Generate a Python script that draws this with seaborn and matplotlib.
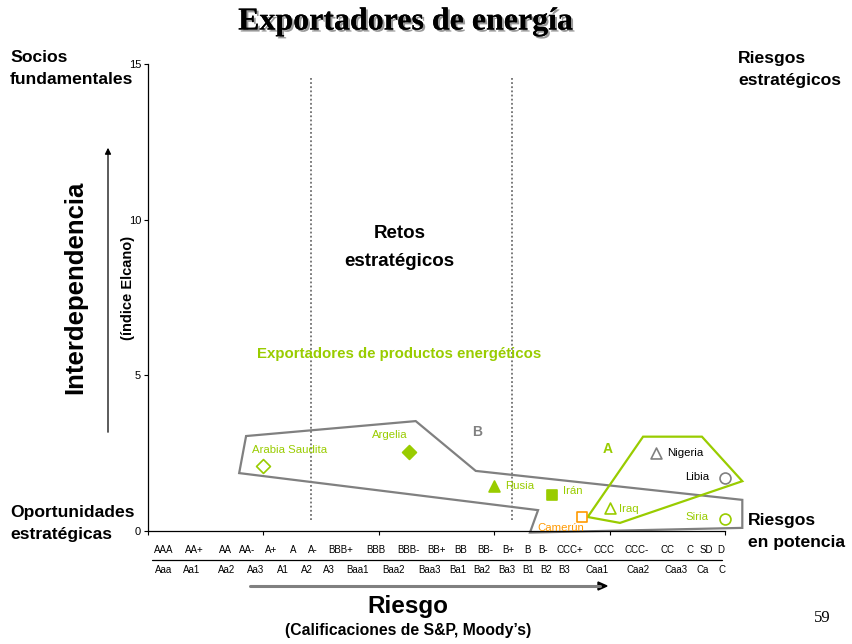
"""
Exportadores de energia: interdependencia (indice Elcano) frente a riesgo
(calificaciones de S&P y Moody's). Guarda out.png.
"""
import matplotlib
matplotlib.use("Agg")
import matplotlib.pyplot as plt
import matplotlib.patheffects as pe
from matplotlib.lines import Line2D
import pandas as pd
import seaborn as sns

# Datos
paises = ["Arabia Saudita", "Argelia", "Rusia", "Irán", "Camerún",
          "Iraq", "Nigeria", "Libia", "Siria"]
riesgo = [5.0, 11.3, 15.0, 17.5, 18.8, 20.0, 22.0, 25.0, 25.0]
interdependencia = [2.1, 2.55, 1.45, 1.15, 0.45, 0.75, 2.5, 1.7, 0.4]
marcador = ["D", "D", "^", "s", "s", "^", "^", "o", "o"]
relleno = [False, True, True, True, False, False, False, False, False]
grupo_color = ["verde", "verde", "verde", "verde", "naranja",
               "verde", "gris", "gris", "verde"]
etiqueta_color = ["verde", "verde", "verde", "verde", "naranja",
                  "verde", "negro", "negro", "verde"]

# Poligonos de los grupos
grupo_b_x = [4.25, 11.6, 14.2, 25.75, 25.75, 16.55, 16.9, 3.95]
grupo_b_y = [3.05, 3.53, 1.93, 1.0, 0.1, -0.05, 0.67, 1.86]
grupo_a_x = [21.45, 24.0, 25.75, 20.45, 19.05]
grupo_a_y = [3.03, 3.03, 1.6, 0.26, 0.45]

# Separadores de zonas
separadores_x = [7.05, 15.75]

# Escalas de calificacion
sp_labels = ["AAA", "AA+", "AA", "AA-", "A+", "A", "A-", "BBB+", "BBB", "BBB-",
             "BB+", "BB", "BB-", "B+", "B", "B-", "CCC+", "CCC", "CCC-", "CC",
             "C", "SD", "D"]
sp_pos = [0.69, 1.99, 3.34, 4.29, 5.33, 6.28, 7.15, 8.36, 9.88, 11.27,
          12.52, 13.56, 14.60, 15.60, 16.42, 17.11, 18.28, 19.76, 21.19, 22.53,
          23.48, 24.18, 24.83]
moody_labels = ["Aaa", "Aa1", "Aa2", "Aa3", "A1", "A2", "A3", "Baa1", "Baa2",
                "Baa3", "Ba1", "Ba2", "Ba3", "B1", "B2", "B3", "Caa1", "Caa2",
                "Caa3", "Ca", "C"]
moody_pos = [0.69, 1.91, 3.42, 4.68, 5.85, 6.89, 7.84, 9.06, 10.62,
             12.18, 13.43, 14.47, 15.55, 16.46, 17.24, 18.02, 19.45, 21.23,
             22.88, 24.05, 24.87]

df = pd.DataFrame({"pais": paises, "x": riesgo, "y": interdependencia,
                   "marker": marcador, "filled": relleno,
                   "color": grupo_color, "lcolor": etiqueta_color})

COLORES = {"verde": "#99CC00", "naranja": "#FF9900", "gris": "#808080",
           "negro": "#000000"}

# desplazamiento de etiquetas (puntos) y alineacion
offsets = {
    "Arabia Saudita": (-8, 11, "left"),
    "Argelia": (-14, 12, "center"),
    "Rusia": (8, 0, "left"),
    "Irán": (8, 3, "left"),
    "Camerún": (-15, -8, "center"),
    "Iraq": (7, -1, "left"),
    "Nigeria": (8, 0, "left"),
    "Libia": (-11, 1, "right"),
    "Siria": (-12, 1, "right"),
}

sns.set_theme(style="white")
plt.rcParams["font.family"] = ["Liberation Sans", "DejaVu Sans"]
plt.rcParams["text.color"] = "black"
plt.rcParams["axes.labelcolor"] = "black"

W, H = 853, 644
fig = plt.figure(figsize=(W / 100, H / 100), dpi=100)


def fx(px):
    return px / W


def fy(py):
    return 1 - py / H


ax = fig.add_axes([fx(148), fy(531), (725 - 148) / W, (531 - 64) / H])
ax.set_xlim(0, 25)
ax.set_ylim(0, 15)

for s in ("top", "right"):
    ax.spines[s].set_visible(False)
for s in ("left", "bottom"):
    ax.spines[s].set_color("black")
    ax.spines[s].set_linewidth(0.9)
ax.set_xticks([0, 5, 10, 15, 20, 25])
ax.set_xticklabels([])
ax.set_yticks([0, 5, 10, 15])
ax.tick_params(axis="both", direction="out", length=3, width=0.8,
               colors="black", labelsize=8, pad=2, left=True, bottom=True)

# separadores punteados
for sx in separadores_x:
    ax.plot([sx, sx], [0.35, 14.6], color="#707070", lw=1.3, ls=(0, (1, 1.3)))

# poligonos
ax.fill(grupo_b_x, grupo_b_y, facecolor="none", edgecolor="#808080",
        lw=1.6, clip_on=False, zorder=2)
ax.fill(grupo_a_x, grupo_a_y, facecolor="none", edgecolor="#99CC00",
        lw=1.6, clip_on=False, zorder=3)

# puntos
for _, r in df.iterrows():
    c = COLORES[r["color"]]
    size = 50 if r["marker"] == "D" else 62
    sns.scatterplot(x=[r["x"]], y=[r["y"]], marker=r["marker"], s=size,
                    facecolor=c if r["filled"] else "white",
                    edgecolor=c, linewidth=1.2, ax=ax, clip_on=False,
                    zorder=4, legend=False)
    dx, dy, ha = offsets[r["pais"]]
    ax.annotate(r["pais"], (r["x"], r["y"]), xytext=(dx, dy),
                textcoords="offset points", ha=ha, va="center",
                fontsize=8.2, color=COLORES[r["lcolor"]],
                annotation_clip=False, zorder=5)

ax.text(19.9, 2.64, "A", color="#99CC00", fontsize=10, fontweight="bold",
        ha="center", va="center")
ax.text(14.25, 3.18, "B", color="#808080", fontsize=10, fontweight="bold",
        ha="center", va="center")
ax.text(10.9, 9.55, "Retos", fontsize=13.5, fontweight="bold",
        ha="center", va="center")
ax.text(10.9, 8.65, "estratégicos", fontsize=13.5, fontweight="bold",
        ha="center", va="center")
ax.text(10.9, 5.7, "Exportadores de productos energéticos", color="#99CC00",
        fontsize=10.8, fontweight="bold", ha="center", va="center")

# escalas de calificacion bajo el eje
xtrans = ax.get_xaxis_transform()
ytxt_sp = (531 - 550) / (531 - 64)
ytxt_md = (531 - 570) / (531 - 64)
for lab, p in zip(sp_labels, sp_pos):
    ax.text(p, ytxt_sp, lab, transform=xtrans, fontsize=7, ha="center",
            va="center", clip_on=False)
for lab, p in zip(moody_labels, moody_pos):
    ax.text(p, ytxt_md, lab, transform=xtrans, fontsize=7, ha="center",
            va="center", clip_on=False)
fig.add_artist(Line2D([fx(152), fx(722)], [fy(560), fy(560)],
                      color="black", lw=0.9))

# flecha de riesgo
fig.add_artist(Line2D([fx(250), fx(600)], [fy(586), fy(586)],
                      color="#808080", lw=2.2))
fig.add_artist(plt.Polygon([[fx(598), fy(582)], [fx(607), fy(586)],
                            [fx(598), fy(590)]], closed=True,
                           facecolor="black", edgecolor="black"))

# flecha de interdependencia
ax.annotate("", xy=(fx(108), fy(145)), xytext=(fx(108), fy(435)),
            xycoords="figure fraction", textcoords="figure fraction",
            arrowprops=dict(arrowstyle="-|>", color="black", lw=0.9,
                            mutation_scale=9))

# textos de la figura
title = fig.text(fx(406), fy(22), "Exportadores de energía",
                 family=["Liberation Serif", "DejaVu Serif"],
                 fontsize=23, fontweight="bold", ha="center", va="center")
title.set_path_effects([pe.withSimplePatchShadow(offset=(1.5, -1.5),
                                                 shadow_rgbFace="0.6",
                                                 alpha=1.0),
                        pe.Normal()])

fig.text(fx(75), fy(287), "Interdependencia", rotation=90, fontsize=18.5,
         fontweight="bold", ha="center", va="center")
fig.text(fx(128), fy(288), "(índice Elcano)", rotation=90, fontsize=10.5,
         fontweight="bold", ha="center", va="center")
fig.text(fx(408), fy(606), "Riesgo", fontsize=17.5, fontweight="bold",
         ha="center", va="center")
fig.text(fx(408), fy(630), "(Calificaciones de S&P, Moody’s)", fontsize=11.3,
         fontweight="bold", ha="center", va="center")

# rotulos de las esquinas, una linea por texto
corner = dict(fontsize=12.6, fontweight="bold", va="center", ha="left")
fig.text(fx(10), fy(58), "Socios", **corner)
fig.text(fx(10), fy(80), "fundamentales", **corner)
fig.text(fx(738), fy(58), "Riesgos", **corner)
fig.text(fx(738), fy(80), "estratégicos", **corner)
fig.text(fx(10), fy(512), "Oportunidades", **corner)
fig.text(fx(10), fy(535), "estratégicas", **corner)
fig.text(fx(748), fy(520), "Riesgos", **corner)
fig.text(fx(748), fy(542), "en potencia", **corner)

fig.text(fx(822), fy(618), "59", family=["Liberation Serif", "DejaVu Serif"],
         fontsize=12, ha="center", va="center")

fig.savefig("out.png", dpi=100)
